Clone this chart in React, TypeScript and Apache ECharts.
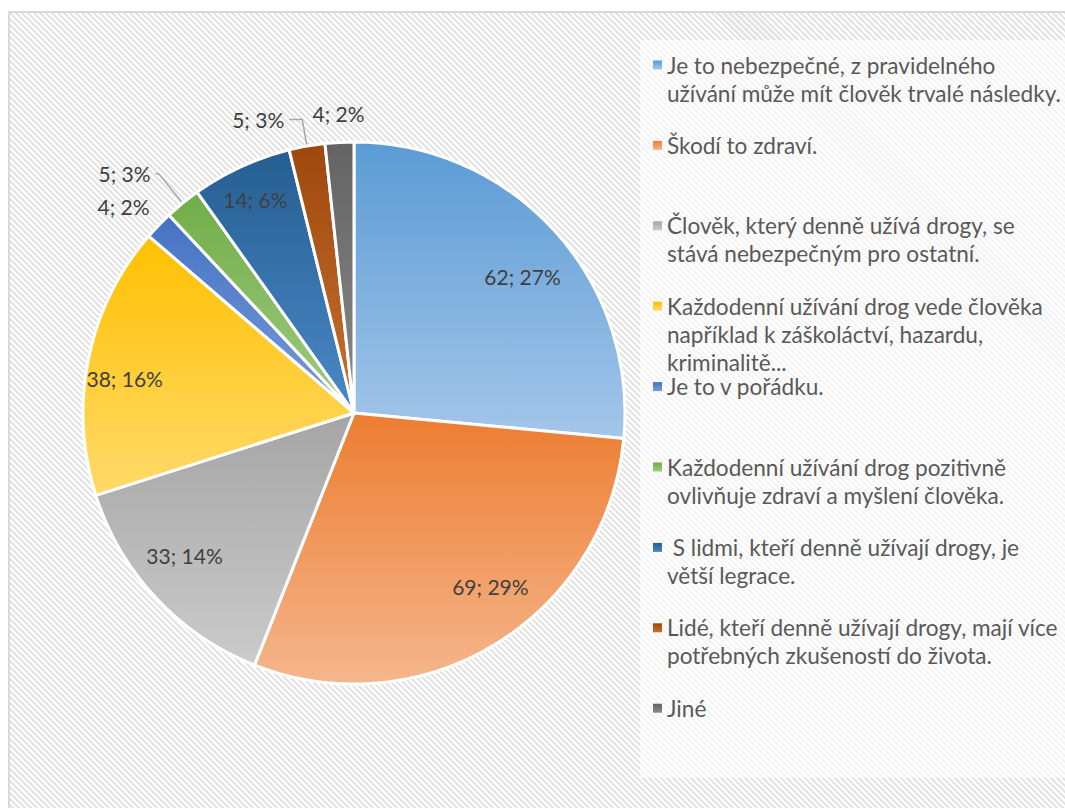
import React, { useEffect, useRef } from "react";
import * as echarts from "echarts";

const categories = [
  "Je to nebezpečné, z pravidelného užívání může mít člověk trvalé následky.",
  "Škodí to zdraví.",
  "Člověk, který denně užívá drogy, se stává nebezpečným pro ostatní.",
  "Každodenní užívání drog vede člověka například k záškoláctví, hazardu, kriminalitě...",
  "Je to v pořádku.",
  "Každodenní užívání drog pozitivně ovlivňuje zdraví a myšlení člověka.",
  " S lidmi, kteří denně užívají drogy, je větší legrace.",
  "Lidé, kteří denně užívají drogy, mají více potřebných zkušeností do života.",
  "Jiné",
];
const legendLines = [
  ["Je to nebezpečné, z pravidelného", "užívání může mít člověk trvalé následky."],
  ["Škodí to zdraví."],
  ["Člověk, který denně užívá drogy, se", "stává nebezpečným pro ostatní."],
  ["Každodenní užívání drog vede člověka", "například k záškoláctví, hazardu,", "kriminalitě..."],
  ["Je to v pořádku."],
  ["Každodenní užívání drog pozitivně", "ovlivňuje zdraví a myšlení člověka."],
  [" S lidmi, kteří denně užívají drogy, je", "větší legrace."],
  ["Lidé, kteří denně užívají drogy, mají více", "potřebných zkušeností do života."],
  ["Jiné"],
];
const values = [62, 69, 33, 38, 4, 5, 14, 5, 4];
const percents = [27, 29, 14, 16, 2, 3, 6, 3, 2];

const colorTop = ["#5b9bd5", "#ed7d31", "#a5a5a5", "#ffc000", "#4472c4", "#70ad47", "#255e91", "#9e480e", "#636363"];
const colorBottom = ["#a4c6e9", "#f5b68c", "#cbcbcb", "#ffda6a", "#7b9dd9", "#a0cc83", "#4a88c7", "#c7702f", "#8a8a8a"];

// label placement style per slice
const labelMode = ["inside", "inside", "inside", "inside", "far", "line", "inside", "line", "far"];
const lineLen = [0, 0, 0, 0, 0, 38, 0, 27, 0];
const lineLen2 = [0, 0, 0, 0, 0, 3, 0, 13, 0];
const labelDx = [-3, 15, 0, -2, -9, 0, -2, 0, 1];
const labelDy = [20, -24, -16, 12, 6, 0, -3, 0, 7];

const FONT = 'Lato, "Open Sans", sans-serif';
const CENTER = [354, 413];
const R = 271;
const LH = 28;

const grad = (i: number) => ({
  type: "linear",
  x: 0,
  y: 0,
  x2: 0,
  y2: 1,
  colorStops: [
    { offset: 0, color: colorTop[i] },
    { offset: 1, color: colorBottom[i] },
  ],
});

const fmt = (p: any) => `${values[p.dataIndex]}; ${percents[p.dataIndex]}%`;

export default function App() {
  const ref = useRef<HTMLDivElement>(null);
  useEffect(() => {
    if (!ref.current) return;
    const chart = echarts.init(ref.current, undefined, { renderer: "svg" });
    const labelText = { color: "#404040", fontSize: 21, fontFamily: FONT };

    const mainData = categories.map((name, i) => ({
      name,
      value: values[i],
      itemStyle: { color: grad(i) },
      label:
        labelMode[i] === "line"
          ? { show: true, position: "outside", formatter: fmt, ...labelText }
          : { show: false },
      labelLine:
        labelMode[i] === "line"
          ? { show: true, length: lineLen[i], length2: lineLen2[i], lineStyle: { color: "#a6a6a6", width: 1.5 } }
          : { show: false },
    }));

    const overlay = (mode: string) =>
      categories.map((name, i) => ({
        name,
        value: values[i],
        label: labelMode[i] === mode ? { show: true } : { show: false },
      }));

    const legends = categories.map((name, i) => {
      const n = legendLines[i].length;
      const c = 65 + 80.4 * i;
      // blank lines above keep the first text line level with the icon
      const text = "\n".repeat(n - 1) + legendLines[i].join("\n");
      return {
        data: [name],
        formatter: () => text,
        left: 653,
        top: c - (LH / 2) * (2 * n - 1),
        orient: "vertical",
        padding: 0,
        itemWidth: 9,
        itemHeight: 9,
        icon: "rect",
        selectedMode: false,
        itemStyle: { borderWidth: 0 },
        textStyle: { color: "#595959", fontSize: 22.6, fontFamily: FONT, lineHeight: LH },
      };
    });

    const nudge = (p: any) => ({ dx: labelDx[p.dataIndex], dy: labelDy[p.dataIndex] });

    chart.setOption({
      animation: false,
      backgroundColor: "transparent",
      graphic: [
        {
          type: "rect",
          left: 640,
          top: 40,
          shape: { width: 425, height: 738 },
          style: { fill: "rgba(255,255,255,0.6)" },
          z: 0,
        },
      ],
      legend: legends,
      series: [
        {
          type: "pie",
          center: CENTER,
          radius: R,
          startAngle: 90,
          clockwise: true,
          avoidLabelOverlap: false,
          itemStyle: { borderColor: "#ffffff", borderWidth: 3 },
          emphasis: { disabled: true },
          data: mainData,
        },
        {
          type: "pie",
          center: CENTER,
          radius: [186, 272],
          startAngle: 90,
          silent: true,
          avoidLabelOverlap: false,
          itemStyle: { color: "rgba(0,0,0,0)", borderWidth: 0 },
          label: { position: "inside", formatter: fmt, ...labelText },
          labelLine: { show: false },
          labelLayout: nudge,
          emphasis: { disabled: true },
          data: overlay("inside"),
        },
        {
          type: "pie",
          center: CENTER,
          radius: [292, 316],
          startAngle: 90,
          silent: true,
          avoidLabelOverlap: false,
          itemStyle: { color: "rgba(0,0,0,0)", borderWidth: 0 },
          label: { position: "inside", formatter: fmt, ...labelText },
          labelLine: { show: false },
          labelLayout: nudge,
          emphasis: { disabled: true },
          data: overlay("far"),
        },
      ],
    });
    return () => chart.dispose();
  }, []);

  return (
    <div
      style={{
        position: "absolute",
        left: 0,
        top: 0,
        width: 1065,
        height: 808,
        overflow: "hidden",
        background: "#ffffff",
      }}
    >
      <div
        style={{
          position: "absolute",
          left: 8,
          top: 11,
          width: 1100,
          height: 850,
          border: "2px solid #d9d9d9",
          background:
            "repeating-linear-gradient(45deg, #ffffff 0px, #ffffff 2.1px, #e4e4e4 2.1px, #e4e4e4 4.24px)",
        }}
      />
      <div ref={ref} style={{ position: "absolute", left: 0, top: 0, width: 1065, height: 808 }} />
    </div>
  );
}
